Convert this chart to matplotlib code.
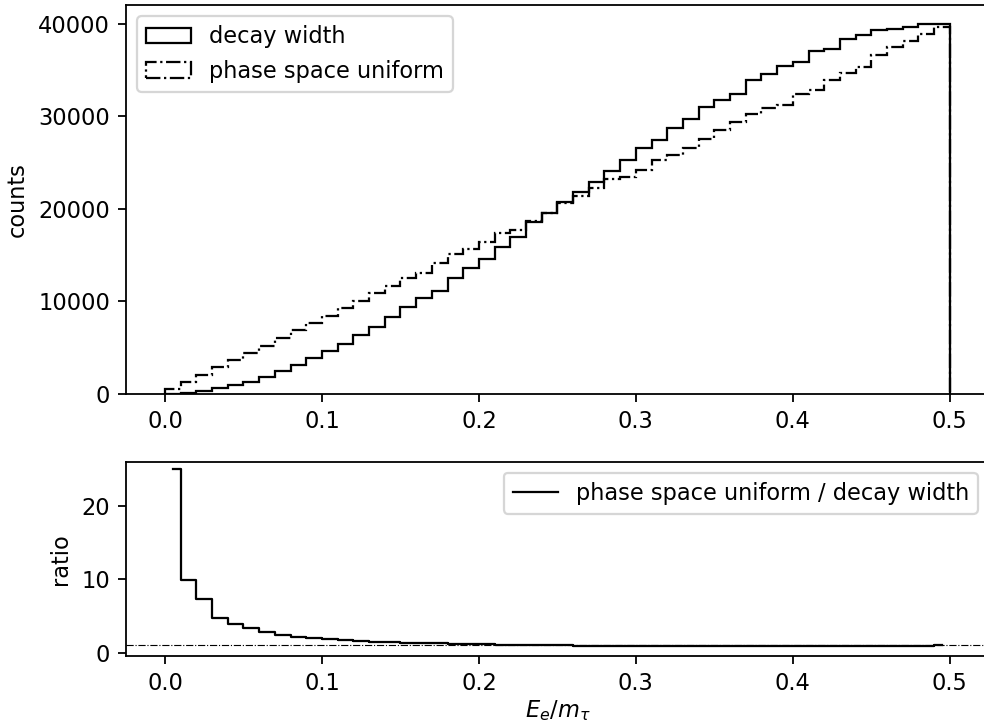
import matplotlib

matplotlib.use("Agg")
import matplotlib.pyplot as plt
import numpy as np
from matplotlib.ticker import MultipleLocator

# 50 bins of E_e / m_tau between 0 and 0.5
bin_edges = np.linspace(0.0, 0.5, 51)

decay_width = [
    22, 127, 282, 608, 932, 1330, 1880, 2500, 3180, 3880,
    4650, 5440, 6360, 7280, 8290, 9440, 10340, 11170, 12500, 13580,
    14560, 15920, 16930, 18550, 19600, 20770, 21840, 22850, 24030, 25300,
    26560, 27460, 28680, 29730, 30950, 31780, 32400, 33900, 34550, 35390,
    35850, 37010, 37300, 38380, 38740, 39280, 39460, 39600, 40000, 40000,
]
phase_space = [
    550, 1260, 2050, 2880, 3680, 4470, 5190, 6020, 6870, 7690,
    8470, 9260, 10000, 10950, 11670, 12500, 13110, 14130, 15100, 15640,
    16430, 17370, 17730, 18630, 19580, 20680, 21330, 22230, 23240, 23420,
    24210, 25300, 25840, 26560, 27570, 28460, 29400, 30190, 30880, 31240,
    32390, 32860, 33910, 34670, 35280, 36570, 37480, 38160, 38880, 39600,
]


def main():
    decay = np.array(decay_width, dtype=float)
    phase = np.array(phase_space, dtype=float)
    centers = 0.5 * (bin_edges[:-1] + bin_edges[1:])
    ratio = phase / decay

    dpi = 162
    fig = plt.figure(figsize=(984 / dpi, 723 / dpi), dpi=dpi)
    # the right edge of both panels runs slightly past the canvas
    ax_top = fig.add_axes([0.1278, 0.455, 0.8773, 0.538])
    ax_bot = fig.add_axes([0.1278, 0.0927, 0.8773, 0.2687])

    ax_top.hist(bin_edges[:-1], bins=bin_edges, weights=decay,
                histtype="step", color="k", label="decay width")
    ax_top.hist(bin_edges[:-1], bins=bin_edges, weights=phase,
                histtype="step", color="k", linestyle="-.",
                label="phase space uniform")
    ax_top.set_ylabel("counts")
    ax_top.yaxis.set_major_locator(MultipleLocator(10000))
    ax_top.legend(loc="upper left")

    ax_bot.plot(centers, ratio, drawstyle="steps-mid", color="k",
                linewidth=1.0, label="phase space uniform / decay width")
    ax_bot.axhline(1.0, color="k", linestyle="-.", linewidth=0.5)
    ax_bot.set_xlim(ax_top.get_xlim())
    ax_bot.set_ylim(-0.45, 26.06)
    ax_bot.set_ylabel("ratio")
    ax_bot.set_xlabel(r"$E_e/m_\tau$", labelpad=1.5)
    ax_bot.legend(loc="upper right")

    fig.savefig("out.png", dpi=dpi)


if __name__ == "__main__":
    main()
